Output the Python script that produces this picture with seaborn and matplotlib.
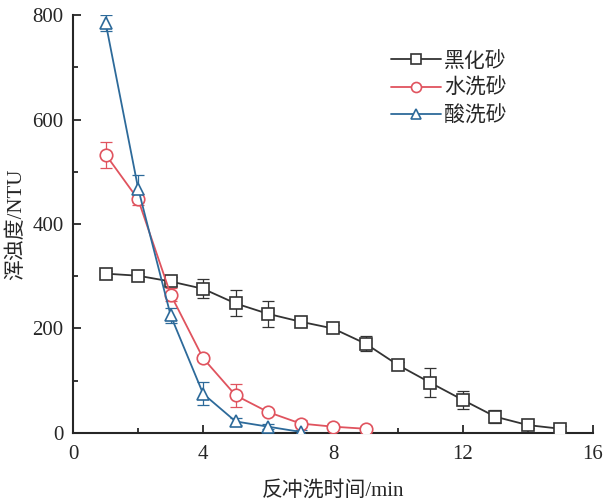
import numpy as np
import pandas as pd
import matplotlib
matplotlib.use("Agg")
import matplotlib.pyplot as plt
import seaborn as sns
from matplotlib.ticker import MultipleLocator

sns.set_theme(style="ticks")
plt.rcParams['font.family'] = ['Liberation Serif', 'Noto Sans CJK SC']

series_names = ["黑化砂", "水洗砂", "酸洗砂"]
x_black = [1, 2, 3, 4, 5, 6, 7, 8, 9, 10, 11, 12, 13, 14, 15]
y_black = [305, 301, 290, 276, 248, 228, 213, 200, 171, 130, 96, 63, 31, 15, 8]
e_black = [6, 6, 8, 18, 25, 25, 8, 6, 15, 6, 28, 18, 12, 6, 5]
x_water = [1, 2, 3, 4, 5, 6, 7, 8, 9]
y_water = [533, 447, 265, 143, 72, 40, 18, 12, 8]
e_water = [25, 10, 12, 6, 22, 6, 6, 5, 5]
x_acid = [1, 2, 3, 4, 5, 6, 7]
y_acid = [785, 468, 225, 75, 22, 12, 2]
e_acid = [15, 25, 15, 22, 6, 5, 3]

colors = ["#333333", "#e0535e", "#2d6a9a"]
markers = ["s", "o", "^"]

fig = plt.figure(figsize=(6.05, 5.04), dpi=100)
ax = fig.add_axes([0.121, 0.141, 0.859, 0.829])

data = [(x_black, y_black, e_black), (x_water, y_water, e_water), (x_acid, y_acid, e_acid)]
for (xs, ys, es), name, c, m in zip(data, series_names, colors, markers):
    df = pd.DataFrame({"x": xs, "y": ys})
    ax.errorbar(xs, ys, yerr=es, fmt="none", ecolor=c, elinewidth=0.9, capsize=4, capthick=0.9, zorder=2)
    sns.lineplot(data=df, x="x", y="y", ax=ax, color=c, marker=m, markersize=9,
                 markerfacecolor="white", markeredgecolor=c, markeredgewidth=1.2,
                 linewidth=1.3, label=name, zorder=3)

ax.set_xlim(0, 16)
ax.set_ylim(0, 800)
ax.xaxis.set_major_locator(MultipleLocator(4))
ax.xaxis.set_minor_locator(MultipleLocator(2))
ax.yaxis.set_major_locator(MultipleLocator(200))
ax.yaxis.set_minor_locator(MultipleLocator(100))
ax.tick_params(which="both", direction="in", labelsize=15, width=1.3)
ax.tick_params(axis="x", which="both", pad=9)
ax.tick_params(axis="y", which="both", pad=7)
ax.tick_params(which="major", length=6)
ax.tick_params(which="minor", length=3.5)
for s in ["left", "bottom"]:
    ax.spines[s].set_linewidth(1.5)
sns.despine(ax=ax)
ax.set_xlabel("反冲洗时间/min", fontsize=15, labelpad=12)
ax.set_ylabel("浑浊度/NTU", fontsize=15, labelpad=4)

leg = ax.legend(loc="upper left", bbox_to_anchor=(0.575, 0.957), frameon=False, fontsize=15,
                handlelength=2.4, labelspacing=0.35, handletextpad=0.15, markerscale=0.8)

fig.savefig("out.png", dpi=100)
